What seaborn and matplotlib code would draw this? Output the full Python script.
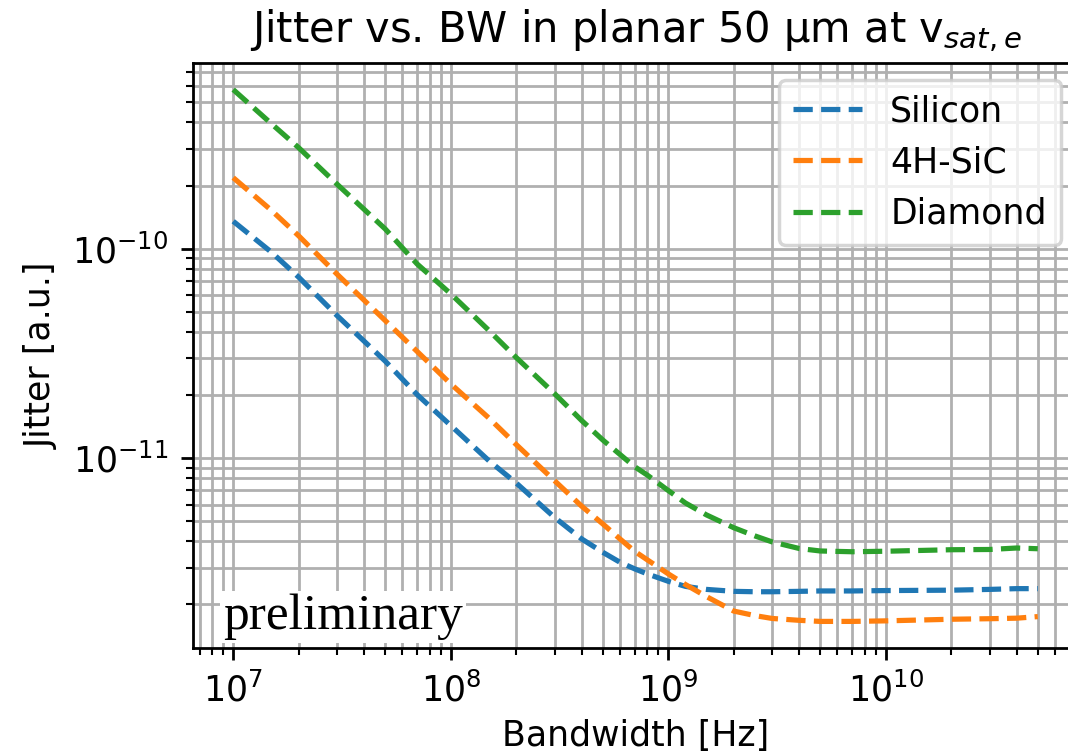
import matplotlib
matplotlib.use("Agg")
import matplotlib.pyplot as plt
import numpy as np
import pandas as pd
import seaborn as sns

# Bandwidth samples [Hz]
bandwidth = [1e7, 1.5e7, 2e7, 3e7, 5e7, 7e7, 1e8, 1.5e8, 2e8, 3e8, 4e8, 5e8, 6e8,
             7e8, 8e8, 1e9, 1.2e9, 1.5e9, 2e9, 2.5e9, 3e9, 4e9, 5e9, 7e9, 1e10,
             2e10, 3e10, 4e10, 5e10]

# Jitter [a.u.] per sensor material
jitter_silicon = [1.35e-10, 9.6e-11, 7.3e-11, 4.79e-11, 2.90e-11, 2.01e-11, 1.43e-11,
                  9.7e-12, 7.6e-12, 5.21e-12, 4.11e-12, 3.55e-12, 3.18e-12,
                  2.96e-12, 2.80e-12, 2.58e-12, 2.44e-12, 2.36e-12, 2.31e-12, 2.30e-12,
                  2.30e-12, 2.31e-12, 2.32e-12, 2.32e-12, 2.33e-12,
                  2.34e-12, 2.36e-12, 2.38e-12, 2.38e-12]
jitter_sic = [2.18e-10, 1.52e-10, 1.15e-10, 7.55e-11, 4.53e-11, 3.23e-11, 2.26e-11,
              1.55e-11, 1.16e-11, 7.8e-12, 5.89e-12, 4.85e-12, 4.11e-12,
              3.59e-12, 3.27e-12, 2.80e-12, 2.49e-12, 2.18e-12, 1.86e-12, 1.77e-12,
              1.715e-12, 1.68e-12, 1.66e-12, 1.66e-12, 1.67e-12,
              1.70e-12, 1.71e-12, 1.72e-12, 1.75e-12]
jitter_diamond = [5.74e-10, 3.94e-10, 3.03e-10, 2.03e-10, 1.24e-10, 8.45e-11, 6.08e-11,
                  4.06e-11, 3.02e-11, 2.03e-11, 1.51e-11, 1.22e-11, 1.04e-11,
                  9.1e-12, 8.3e-12, 7.0e-12, 6.1e-12, 5.35e-12, 4.65e-12, 4.25e-12,
                  3.98e-12, 3.70e-12, 3.60e-12, 3.57e-12, 3.59e-12,
                  3.65e-12, 3.66e-12, 3.72e-12, 3.69e-12]

materials = ["Silicon", "4H-SiC", "Diamond"]
colors = ["#1f77b4", "#ff7f0e", "#2ca02c"]

df = pd.DataFrame({
    "bandwidth": bandwidth * 3,
    "jitter": jitter_silicon + jitter_sic + jitter_diamond,
    "material": [m for m in materials for _ in bandwidth],
})

DPI = 250
fig = plt.figure(figsize=(1068 / DPI, 754 / DPI), dpi=DPI)
ax = fig.add_axes([193 / 1068, 106 / 754, 885 / 1068, 585 / 754])
ax.set_xscale("log")
ax.set_yscale("log")

for name, color in zip(materials, colors):
    sub = df[df["material"] == name]
    sns.lineplot(data=sub, x="bandwidth", y="jitter", color=color,
                 linestyle="--", linewidth=1.5, label=name, ax=ax)

ax.grid(True, which="both", color="#b0b0b0", linewidth=0.8)
ax.set_axisbelow(True)

ax.set_title(r"Jitter vs. BW in planar 50 µm at v$_{sat,e}$", fontsize=12)
ax.set_xlabel("Bandwidth [Hz]", fontsize=10, labelpad=3)
ax.set_ylabel("Jitter [a.u.]", fontsize=10)
ax.legend(loc="upper right", fontsize=10)

ax.text(0.034, 0.013, "preliminary", transform=ax.transAxes,
        family="Liberation Serif", fontsize=14.8, ha="left", va="bottom",
        bbox=dict(boxstyle="square,pad=0.06", facecolor="white", edgecolor="none"),
        zorder=5)

fig.savefig("out.png", dpi=DPI)
